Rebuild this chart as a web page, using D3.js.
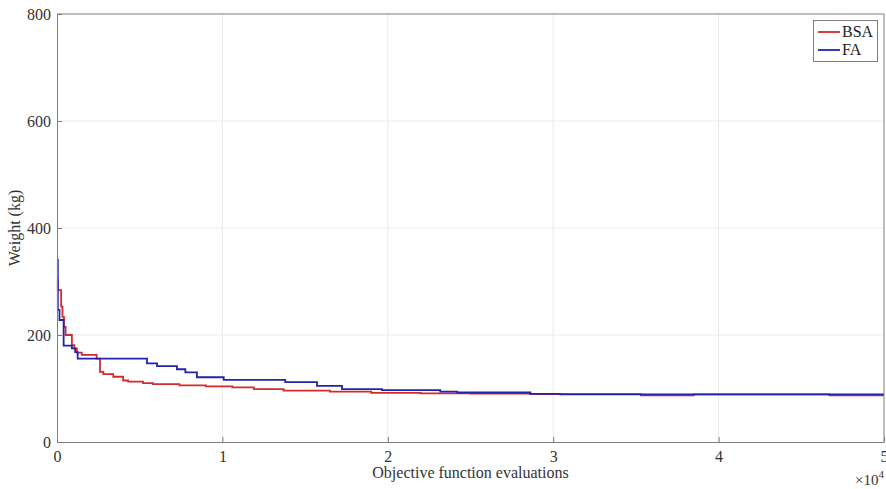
<!DOCTYPE html>
<html>
<head>
<meta charset="utf-8">
<script src="https://cdn.jsdelivr.net/npm/d3@7"></script>
<style>
  html, body { margin: 0; padding: 0; background: #fff; }
  svg { display: block; font-family: "Liberation Serif", "Times New Roman", serif; }
</style>
</head>
<body>
<svg id="chart" width="886" height="489"></svg>
<script>
// ---- data ----
const xTicks = [0, 10000, 20000, 30000, 40000, 50000];
const xTickLabels = ["0", "1", "2", "3", "4", "5"];
const yTicks = [0, 200, 400, 600, 800];
const seriesNames = ["BSA", "FA"];
const seriesColors = ["#d42a2a", "#2323ad"];

const bsaEvals = [0, 50, 250, 330, 420, 520, 900, 1050, 1200, 1500, 2400, 2600, 2800, 3400, 4000, 4300, 5200, 5800, 7400, 9000, 10600, 11900, 13700, 16500, 19000, 22000, 25000, 28600, 35300, 38500, 46700, 50000];
const bsaWeight = [303, 284, 253, 234, 215, 200, 181, 175, 167, 163, 156, 131, 127, 122, 115, 113, 110, 108, 106, 104, 102, 99, 96, 94, 92, 91, 90.5, 89.5, 87.3, 89, 87.3, 87.3];

const faEvals = [0, 50, 150, 400, 900, 1100, 1250, 5440, 6050, 7250, 7760, 8460, 10080, 13800, 15720, 17230, 19650, 23170, 24200, 28620, 30430, 50000];
const faWeight = [341, 247, 228, 180, 175, 168, 156, 147, 142, 136, 130, 121, 116, 112, 105, 99, 97, 94, 92.5, 90, 89, 89];

// ---- layout ----
const svg = d3.select("#chart");
const L = 57, T = 14, R = 884, B = 442;
const x = d3.scaleLinear().domain([0, 50000]).range([L, R]);
const y = d3.scaleLinear().domain([0, 800]).range([B, T]);
const axisColor = "#7d7d7d";

// grid
const g = svg.append("g");
g.selectAll("line.vg").data(xTicks.slice(1, -1)).enter().append("line")
  .attr("x1", d => x(d)).attr("x2", d => x(d)).attr("y1", T).attr("y2", B)
  .attr("stroke", "#ebebeb").attr("stroke-width", 1);
g.selectAll("line.hg").data(yTicks.slice(1, -1)).enter().append("line")
  .attr("x1", L).attr("x2", R).attr("y1", d => y(d)).attr("y2", d => y(d))
  .attr("stroke", "#ebebeb").attr("stroke-width", 1);

// lines
const line = d3.line().curve(d3.curveStepAfter).x(d => x(d[0])).y(d => y(d[1]));
const bsa = bsaEvals.map((e, i) => [e, bsaWeight[i]]);
const fa = faEvals.map((e, i) => [e, faWeight[i]]);
svg.append("path").datum(bsa).attr("d", line).attr("fill", "none")
  .attr("stroke", seriesColors[0]).attr("stroke-width", 1.8);
svg.append("path").datum(fa).attr("d", line).attr("fill", "none")
  .attr("stroke", seriesColors[1]).attr("stroke-width", 1.8);

// axes
const xAxis = d3.axisBottom(x).tickValues(xTicks).tickFormat((d, i) => xTickLabels[i]).tickSizeInner(-5).tickSizeOuter(0).tickPadding(9);
const yAxis = d3.axisLeft(y).tickValues(yTicks).tickFormat(d3.format("d")).tickSizeInner(-5).tickSizeOuter(0).tickPadding(6);
const gx = svg.append("g").attr("transform", `translate(0,${B})`).call(xAxis);
const gy = svg.append("g").attr("transform", `translate(${L},0)`).call(yAxis);
[gx, gy].forEach(a => {
  a.select(".domain").attr("stroke", axisColor);
  a.selectAll(".tick line").attr("stroke", axisColor);
  a.selectAll(".tick text").attr("fill", "#333").style("font-size", "16px")
    .style("font-family", '"Liberation Serif", serif');
});
// top and right box lines
svg.append("line").attr("x1", L).attr("x2", R).attr("y1", T).attr("y2", T).attr("stroke", axisColor);
svg.append("line").attr("x1", R).attr("x2", R).attr("y1", T).attr("y2", B).attr("stroke", axisColor);

// axis labels
svg.append("text").attr("x", (L + R) / 2).attr("y", 478).attr("text-anchor", "middle")
  .attr("fill", "#333").style("font-size", "16px").text("Objective function evaluations");
svg.append("text").attr("transform", `translate(20,${(T + B) / 2}) rotate(-90)`).attr("text-anchor", "middle")
  .attr("fill", "#333").style("font-size", "16px").text("Weight (kg)");

// x10^4
const mult = svg.append("text").attr("x", 884).attr("y", 485).attr("text-anchor", "end")
  .attr("fill", "#333").style("font-size", "15px");
mult.append("tspan").text("×10");
mult.append("tspan").attr("dy", -7).style("font-size", "11px").text("4");

// legend
const lg = svg.append("g");
lg.append("rect").attr("x", 813.5).attr("y", 20.5).attr("width", 64).attr("height", 41)
  .attr("fill", "#fff").attr("stroke", axisColor);
seriesNames.forEach((n, i) => {
  const yy = 32 + i * 18;
  lg.append("line").attr("x1", 818).attr("x2", 840).attr("y1", yy).attr("y2", yy)
    .attr("stroke", seriesColors[i]).attr("stroke-width", 1.8);
  lg.append("text").attr("x", 842).attr("y", yy + 5).attr("fill", "#222")
    .style("font-size", "16px").text(n);
});
</script>
</body>
</html>
